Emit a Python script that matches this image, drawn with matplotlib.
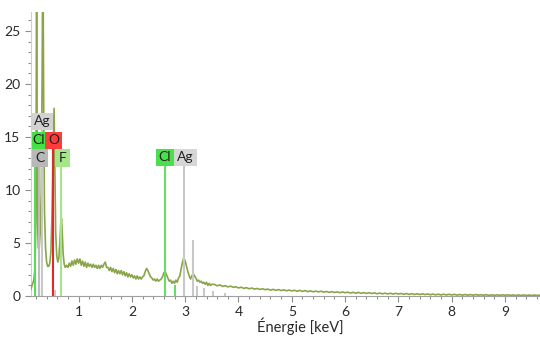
import numpy as np
import matplotlib
matplotlib.use("Agg")
import matplotlib.pyplot as plt
from matplotlib.patches import Rectangle
from matplotlib.ticker import MultipleLocator

plt.rcParams['font.family'] = ['Lato', 'DejaVu Sans']

# ---- EDS spectrum (counts, x1000) ----
# low-energy region, irregular sampling around the C/O/F peaks
energy_low = [0.10, 0.12, 0.14, 0.16, 0.18, 0.195, 0.205, 0.212, 0.22, 0.23,
              0.245, 0.26, 0.28, 0.30, 0.315, 0.33, 0.345, 0.36, 0.38, 0.40,
              0.42, 0.44, 0.46, 0.48, 0.50, 0.52, 0.54, 0.555, 0.57, 0.59,
              0.61, 0.63, 0.65, 0.665, 0.68, 0.695, 0.71, 0.73, 0.75, 0.775]
counts_low = [0.6, 0.9, 1.2, 1.5, 2.5, 6.0, 18.0, 32.0, 18.0, 7.0,
              4.5, 4.5, 6.0, 10.0, 20.0, 34.0, 18.0, 8.0, 4.5, 3.2,
              2.8, 2.8, 3.1, 4.2, 7.5, 13.0, 17.7, 12.0, 6.0, 3.8,
              3.2, 3.6, 5.2, 6.8, 7.3, 5.8, 4.0, 3.0, 2.7, 2.9]

# mid region, channels every 0.025 keV from 0.800 keV
mid_start, mid_step = 0.800, 0.025
counts_mid = [
    2.7, 3.1, 2.8, 3.3, 2.9, 3.4, 3.0, 3.5,   # 0.800 - 0.975
    3.1, 3.5, 2.9, 3.3, 2.8, 3.2, 2.7, 3.1,   # 1.000 - 1.175
    2.8, 3.0, 2.7, 3.0, 2.7, 2.9, 2.6, 2.9,   # 1.200 - 1.375
    2.6, 2.9, 2.7, 3.0, 3.2, 2.7, 2.7, 2.4,   # 1.400 - 1.575
    2.7, 2.3, 2.6, 2.2, 2.5, 2.1, 2.4, 2.1,   # 1.600 - 1.775
    2.4, 2.0, 2.3, 1.9, 2.2, 1.8, 2.1, 1.8,   # 1.800 - 1.975
    2.0, 1.7, 1.9, 1.6, 1.9, 1.6, 1.8, 1.6,   # 2.000 - 2.175
    1.8, 1.9, 2.3, 2.6, 2.4, 2.1, 1.8, 1.7,   # 2.200 - 2.375
    1.5, 1.6, 1.4, 1.6, 1.4, 1.5, 1.6, 1.8,   # 2.400 - 2.575
    2.2, 2.3, 2.0, 1.7, 1.4, 1.5, 1.2, 1.4,   # 2.600 - 2.775
    1.2, 1.5, 1.3, 1.7, 1.9, 2.6, 3.2, 3.6,   # 2.800 - 2.975
    3.3, 2.8, 2.3, 1.9, 1.6, 1.9, 2.1, 1.9,   # 3.000 - 3.175
    1.7, 1.4, 1.5, 1.3, 1.4, 1.2, 1.3, 1.1,   # 3.200 - 3.375
    1.3, 1.0, 1.2, 1.0, 1.1,                  # 3.400 - 3.500
]

# high region, channels every 0.05 keV from 3.55 keV
high_start, high_step = 3.55, 0.05
counts_high = [
    1.10, 0.96, 1.05, 0.90, 0.98, 0.86, 0.93, 0.82, 0.87, 0.76,
    0.83, 0.72, 0.79, 0.68, 0.75, 0.65, 0.71, 0.62, 0.68, 0.60,
    0.65, 0.55, 0.63, 0.53, 0.61, 0.51, 0.58, 0.49, 0.56, 0.48,
    0.54, 0.45, 0.53, 0.43, 0.51, 0.41, 0.48, 0.40, 0.46, 0.39,
    0.45, 0.36, 0.43, 0.34, 0.41, 0.33, 0.39, 0.31, 0.38, 0.31,
    0.36, 0.28, 0.35, 0.26, 0.34, 0.25, 0.32, 0.24, 0.31, 0.24,
    0.29, 0.21, 0.28, 0.20, 0.27, 0.19, 0.26, 0.18, 0.25, 0.19,
    0.24, 0.16, 0.23, 0.15, 0.22, 0.14, 0.21, 0.14, 0.20, 0.14,
    0.19, 0.12, 0.18, 0.11, 0.17, 0.10, 0.17, 0.10, 0.16, 0.10,
    0.15, 0.09, 0.14, 0.08, 0.14, 0.08, 0.13, 0.08, 0.13, 0.08,
    0.12, 0.07, 0.12, 0.06, 0.11, 0.06, 0.11, 0.06, 0.11, 0.07,
    0.11, 0.06, 0.10, 0.05, 0.10, 0.05, 0.10, 0.05, 0.09, 0.05,
    0.09, 0.05, 0.08,
]

# ---- element line markers ----
marker_energy = [0.18, 0.25, 0.26, 0.31, 0.525, 0.56, 0.677,
                 2.622, 2.815, 2.984, 3.151, 3.23, 3.348, 3.52, 3.75]
marker_height = [14.0, 0.8, 12.3, 15.7, 14.0, 0.6, 12.3,
                 12.3, 1.0, 12.3, 5.3, 0.9, 0.8, 0.5, 0.3]
marker_color = ['#55dd55', '#55dd55', '#bdbdbd', '#c8c8c8', '#e02a2a', '#c8c8c8', '#a6e48c',
                '#66dd66', '#66dd66', '#c8c8c8', '#c8c8c8', '#c8c8c8', '#c8c8c8', '#c8c8c8', '#c8c8c8']

# ---- element labels: text, box (x0, x1, y0, y1) in data units, colour ----
label_text = ['Ag', 'Cl', 'O', 'C', 'F', 'Cl', 'Ag']
label_box = [(0.12, 0.525, 15.7, 17.3),
             (0.12, 0.37, 13.9, 15.5),
             (0.37, 0.69, 13.9, 15.5),
             (0.13, 0.43, 12.2, 13.9),
             (0.557, 0.84, 12.2, 13.9),
             (2.45, 2.79, 12.3, 13.9),
             (2.79, 3.22, 12.3, 13.9)]
label_color = ['#d2d2d2', '#44e044', '#ff3c3c', '#b8b8b8', '#a6e589', '#4be04b', '#d6d6d6']

energy_mid = mid_start + mid_step * np.arange(len(counts_mid))
energy_high = high_start + high_step * np.arange(len(counts_high))
energy = np.concatenate([energy_low, energy_mid, energy_high])
counts = np.concatenate([counts_low, counts_mid, counts_high])

fig = plt.figure(figsize=(5.4, 3.37), dpi=100)
ax = fig.add_axes([31 / 540, 41 / 337, 509 / 540, 284 / 337])

ax.plot(energy, counts, color='#8aa449', lw=1.2, zorder=3)

for e, h, c in zip(marker_energy, marker_height, marker_color):
    ax.vlines(e, 0, h, colors=c, lw=1.5, zorder=4)

for t, (x0, x1, y0, y1), c in zip(label_text, label_box, label_color):
    ax.add_patch(Rectangle((x0, y0), x1 - x0, y1 - y0, facecolor=c,
                           edgecolor='none', zorder=5, clip_on=False))
    ax.text((x0 + x1) / 2, (y0 + y1) / 2, t, ha='center', va='center',
            fontsize=10, color='#222222', zorder=6)

ax.set_xlim(0.107, 9.657)
ax.set_ylim(0, 26.8)

ax.xaxis.set_major_locator(MultipleLocator(1))
ax.xaxis.set_minor_locator(MultipleLocator(0.2))
ax.yaxis.set_major_locator(MultipleLocator(5))
ax.yaxis.set_minor_locator(MultipleLocator(1))

for s in ('top', 'right'):
    ax.spines[s].set_visible(False)
ax.spines['bottom'].set_color('#a0a0a0')
ax.spines['left'].set_color('#d0d0d0')
ax.spines['bottom'].set_linewidth(0.8)
ax.spines['left'].set_linewidth(0.8)

ax.tick_params(axis='both', which='major', length=4.5, width=0.8, color='#909090',
               labelsize=10, labelcolor='#2a2a2a', pad=3)
ax.tick_params(axis='both', which='minor', length=2.5, width=0.8, color='#909090')

ax.set_xlabel('Énergie [keV]', fontsize=10.5, color='#2a2a2a')
ax.xaxis.set_label_coords((300 - 31) / 509, -0.077)

fig.savefig('out.png', dpi=100)
